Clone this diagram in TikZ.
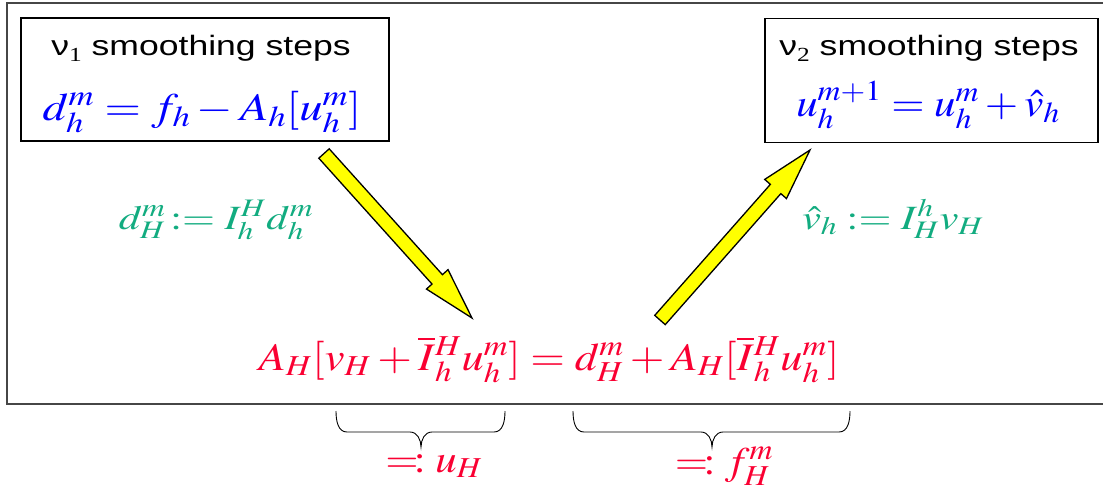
\documentclass[tikz,border=0pt]{standalone}
\usepackage{mathptmx}
\usepackage[no-math]{fontspec}
\setsansfont{Liberation Sans}
\newfontfamily\serifnum{Liberation Serif}
\usetikzlibrary{calc}
\definecolor{eqblue}{RGB}{0,0,255}
\definecolor{eqgreen}{RGB}{18,172,128}
\definecolor{eqred}{RGB}{250,0,50}
\definecolor{arrowyellow}{RGB}{255,255,0}
\definecolor{framegray}{RGB}{70,70,70}
\newcommand\blockarrow[2]{%
  \coordinate (ba-base) at ($(#2)!52pt!(#1)$);
  \draw[blockarrowstyle] ($(#1)!7pt!90:(#2)$) -- ($(ba-base)!7pt!90:(#2)$)
    -- ($(ba-base)!14.5pt!90:(#2)$) -- (#2) -- ($(ba-base)!14.5pt!-90:(#2)$)
    -- ($(ba-base)!7pt!-90:(#2)$) -- ($(#1)!7pt!-90:(#2)$) -- cycle;
}
\newcommand\underbr[4]{% left x, right x, tip x, top y
  \draw[bracestyle] (#1,#4) to[out=-90,in=180] (#1+11,#4+21) -- (#3-11,#4+21)
    to[out=0,in=90] (#3,#4+36) to[out=90,in=180] (#3+11,#4+21) -- (#2-11,#4+21)
    to[out=0,in=-90] (#2,#4);
}
\begin{document}
\begin{tikzpicture}[x=1pt,y=-1pt,
  box/.style={draw=black, line width=1.8pt, inner sep=0pt},
  stext/.style={font=\sffamily\fontsize{28}{30}\selectfont, xscale=1.27, inner sep=0pt},
  bluemath/.style={text=eqblue, font=\fontsize{39}{46}\selectfont, inner sep=0pt},
  greenmath/.style={text=eqgreen, font=\fontsize{34}{40}\selectfont, xscale=1.25, inner sep=0pt},
  redmath/.style={text=eqred, font=\fontsize{39}{46}\selectfont, inner sep=0pt},
  blockarrowstyle/.style={draw=black, fill=arrowyellow, line width=1.3pt, line join=miter},
  bracestyle/.style={draw=black, line width=0.9pt},
]
\useasboundingbox (0,0) rectangle (1103,499);
\fill[white] (0,0) rectangle (1103,499);
\draw[framegray, line width=2pt] (1103,3) -- (7,3) -- (7,404) -- (1103,404);

\node[box, minimum width=368pt, minimum height=123pt] (lbox) at (205,79.5) {};
\node[box, minimum width=333pt, minimum height=124pt] (rbox) at (931.5,80.5) {};

\node[stext, anchor=base] (ltitle) at (201,55) {ν{\serifnum\fontsize{20}{20}\selectfont\raisebox{-6pt}{1}} smoothing steps};
\node[stext, anchor=base] (rtitle) at (929,55) {ν{\serifnum\fontsize{20}{20}\selectfont\raisebox{-6pt}{2}} smoothing steps};

\node[bluemath, xscale=1.2, anchor=base] (lform) at (202,120) {$d_h^m = f_h - A_h[u_h^m]$};
\node[bluemath, xscale=1.1, anchor=base] (rform) at (928,116) {$u_h^{m+1} = u_h^m + \hat{v}_h$};

\node[greenmath, anchor=base] (restr) at (216,229) {$d_H^m\!:= I_h^H d_h^m$};
\node[greenmath, anchor=base] (prol) at (893,229) {$\hat{v}_h \mathrel{:=} I_H^h v_H$};

\node[redmath, xscale=1.14, anchor=base] (coarse) at (549,370) {$A_H[v_H + \overline{I}{}_h^H u_h^m] = d_H^m + A_H[\overline{I}{}_h^H u_h^m]$};

\coordinate (la-tail) at (324,153.5);
\coordinate (la-tip) at (472,318);
\coordinate (ra-tail) at (660,320);
\coordinate (ra-tip) at (810,150);
\blockarrow{la-tail}{la-tip}
\blockarrow{ra-tail}{ra-tip}

\underbr{336}{505}{421}{411}
\underbr{573}{850}{712}{411}

\node[redmath, xscale=1.1, anchor=base] (uH) at (434,472) {$=\!:u_H$};
\node[redmath, xscale=1.1, anchor=base] (fH) at (724,474) {$=\!:f_H^m$};
\end{tikzpicture}
\end{document}
